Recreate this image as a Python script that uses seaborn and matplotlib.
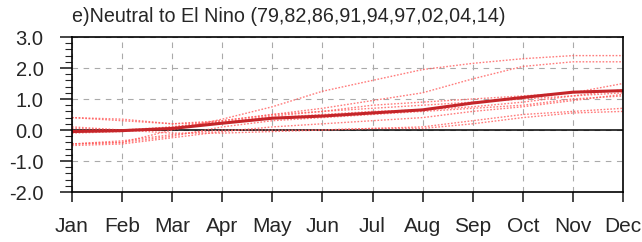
import numpy as np
import pandas as pd
import matplotlib
matplotlib.use("Agg")
import matplotlib.pyplot as plt
from matplotlib.ticker import MultipleLocator
import seaborn as sns

# months on the x axis
months = ["Jan", "Feb", "Mar", "Apr", "May", "Jun", "Jul", "Aug", "Sep", "Oct", "Nov", "Dec"]
years = ["79", "82", "86", "91", "94", "97", "02", "04", "14"]

# individual years (dotted)
y79 = [-0.45, -0.40, 0.00, 0.35, 0.75, 1.25, 1.60, 1.95, 2.15, 2.30, 2.40, 2.40]
y82 = [0.05, 0.00, 0.10, 0.30, 0.50, 0.70, 0.95, 1.20, 1.65, 2.05, 2.20, 2.20]
y86 = [0.40, 0.30, 0.20, 0.25, 0.45, 0.60, 0.80, 0.90, 1.00, 1.10, 1.20, 1.50]
y91 = [0.40, 0.35, 0.20, 0.30, 0.50, 0.60, 0.70, 0.80, 0.90, 1.00, 1.10, 1.20]
y94 = [-0.10, -0.05, 0.10, 0.25, 0.40, 0.50, 0.60, 0.65, 0.75, 0.90, 1.10, 1.30]
y97 = [-0.45, -0.40, -0.20, 0.10, 0.30, 0.40, 0.50, 0.60, 0.70, 0.80, 1.00, 1.10]
y02 = [-0.50, -0.45, -0.25, -0.05, 0.10, 0.20, 0.30, 0.40, 0.60, 0.75, 0.95, 1.15]
y04 = [-0.45, -0.35, -0.15, 0.00, 0.00, 0.00, 0.05, 0.10, 0.30, 0.50, 0.60, 0.70]
y14 = [0.10, 0.00, -0.10, -0.10, -0.05, 0.00, 0.05, 0.05, 0.20, 0.40, 0.55, 0.60]

# composite mean (solid)
composite = [-0.05, -0.02, 0.05, 0.22, 0.38, 0.45, 0.55, 0.65, 0.87, 1.05, 1.22, 1.27]

members = [y79, y82, y86, y91, y94, y97, y02, y04, y14]
rows = []
for yr, vals in zip(years, members):
    for i, v in enumerate(vals):
        rows.append({"year": yr, "month": i, "value": v})
df = pd.DataFrame(rows)
df_mean = pd.DataFrame({"month": range(12), "value": composite})

sns.set_style("white")
plt.rcParams["font.family"] = ["Liberation Sans", "DejaVu Sans"]

fig = plt.figure(figsize=(6.42, 2.42), dpi=100)
ax = fig.add_axes([0.1121, 0.2066, 0.8583, 0.6405])

# each year as a dotted pink line, then the composite on top
sns.lineplot(data=df, x="month", y="value", units="year", estimator=None,
             color="#ff5c5c", alpha=0.8, linestyle=(0, (1.2, 1.2)), linewidth=1.0, ax=ax)
sns.lineplot(data=df_mean, x="month", y="value", color="#c42529", linewidth=2.2, ax=ax)

ax.axhline(0, color="black", linewidth=1.1, zorder=1)

ax.set_xlim(0, 11)
ax.set_ylim(-2, 3)
ax.set_xticks(range(12))
ax.set_xticklabels(months)
ax.yaxis.set_major_locator(MultipleLocator(1.0))
ax.yaxis.set_minor_locator(MultipleLocator(0.2))
ax.set_yticklabels([f"{t:.1f}" for t in ax.get_yticks()])
ax.set_ylim(-2, 3)
ax.set_xlabel("")
ax.set_ylabel("")

ax.grid(True, which="major", color="#aaaaaa", linestyle=(0, (5, 5)), linewidth=0.8)
ax.set_axisbelow(True)

for s in ax.spines.values():
    s.set_color("black")
    s.set_linewidth(1.2)

ax.tick_params(axis="x", which="major", bottom=True, direction="out", length=7, width=1.2,
               pad=11, labelsize=15)
ax.tick_params(axis="y", which="major", left=True, direction="out", length=8.5, width=1.2,
               pad=12, labelsize=14.5)
ax.tick_params(axis="y", which="minor", left=True, direction="out", length=5, width=0.8)

fig.text(0.1121, 0.91, "e)Neutral to El Nino (79,82,86,91,94,97,02,04,14)",
         fontsize=14.2, ha="left", va="baseline")

fig.savefig("out.png", dpi=100)
